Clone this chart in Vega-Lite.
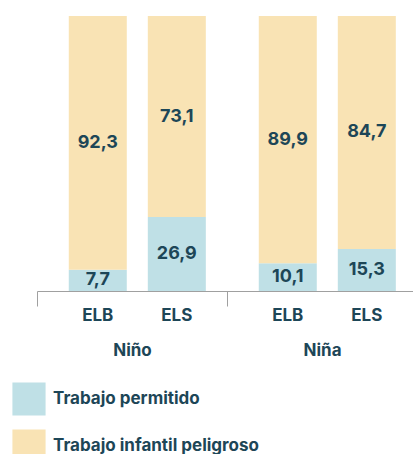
{
  "$schema": "https://vega.github.io/schema/vega-lite/v6.json",
  "width": 376,
  "height": 275,
  "autosize": {"type": "none"},
  "padding": {"left": 37, "top": 16, "right": 0, "bottom": 163},
  "config": {
    "view": {"stroke": null},
    "font": "Inter",
    "locale": {"number": {"decimal": ",", "thousands": ".", "grouping": [3], "currency": ["", " €"]}}
  },
  "data": {
    "values": [
      {"grupo": "Niño", "nivel": "ELB", "tipo": "Trabajo permitido", "valor": 7.7},
      {"grupo": "Niño", "nivel": "ELB", "tipo": "Trabajo infantil peligroso", "valor": 92.3},
      {"grupo": "Niño", "nivel": "ELS", "tipo": "Trabajo permitido", "valor": 26.9},
      {"grupo": "Niño", "nivel": "ELS", "tipo": "Trabajo infantil peligroso", "valor": 73.1},
      {"grupo": "Niña", "nivel": "ELB", "tipo": "Trabajo permitido", "valor": 10.1},
      {"grupo": "Niña", "nivel": "ELB", "tipo": "Trabajo infantil peligroso", "valor": 89.9},
      {"grupo": "Niña", "nivel": "ELS", "tipo": "Trabajo permitido", "valor": 15.3},
      {"grupo": "Niña", "nivel": "ELS", "tipo": "Trabajo infantil peligroso", "valor": 84.7}
    ]
  },
  "transform": [
    {"stack": "valor", "groupby": ["grupo", "nivel"], "sort": [{"field": "tipo", "order": "descending"}], "as": ["y0", "y1"]},
    {"calculate": "(datum.y0 + datum.y1) / 2", "as": "ymid"}
  ],
  "encoding": {
    "x": {
      "field": "grupo",
      "type": "nominal",
      "sort": ["Niño", "Niña"],
      "scale": {"range": [0, 380], "paddingInner": 0, "paddingOuter": 0},
      "axis": {
        "title": null,
        "domainColor": "#a0a0a0",
        "tickColor": "#a0a0a0",
        "tickBand": "extent",
        "tickSize": 15,
        "labelAngle": 0,
        "labelFontSize": 17,
        "labelFontWeight": "bold",
        "labelColor": "#1d4657",
        "labelPadding": 36
      }
    },
    "xOffset": {
      "field": "nivel",
      "type": "nominal",
      "sort": ["ELB", "ELS"],
      "scale": {"paddingInner": 0.266, "paddingOuter": 0.335, "align": 0.6}
    }
  },
  "layer": [
    {
      "mark": {"type": "bar"},
      "encoding": {
        "y": {"field": "y0", "type": "quantitative", "scale": {"domain": [0, 100]}, "axis": null},
        "y2": {"field": "y1"},
        "color": {
          "field": "tipo",
          "type": "nominal",
          "scale": {"domain": ["Trabajo permitido", "Trabajo infantil peligroso"], "range": ["#bfe0e6", "#f9e3b4"]},
          "legend": {
            "title": null,
            "orient": "none",
            "legendX": -25,
            "legendY": 366,
            "direction": "vertical",
            "symbolType": "square",
            "symbolSize": 1100,
            "symbolStrokeWidth": 0,
            "symbolOpacity": 1,
            "labelFontSize": 17,
            "labelFontWeight": "bold",
            "labelColor": "#1d4657",
            "labelLimit": 400,
            "labelOffset": 7,
            "rowPadding": 13,
            "padding": 0
          }
        }
      }
    },
    {
      "mark": {"type": "text", "fontSize": 18, "fontWeight": "bold", "color": "#1d4657", "baseline": "middle"},
      "encoding": {
        "y": {"field": "ymid", "type": "quantitative"},
        "text": {"field": "valor", "type": "quantitative", "format": ".1f"}
      }
    },
    {
      "transform": [{"filter": "datum.tipo === 'Trabajo permitido'"}],
      "mark": {"type": "text", "fontSize": 17, "fontWeight": "bold", "color": "#1d4657", "baseline": "middle"},
      "encoding": {
        "y": {"datum": -9.2, "type": "quantitative"},
        "text": {"field": "nivel", "type": "nominal"}
      }
    }
  ]
}
